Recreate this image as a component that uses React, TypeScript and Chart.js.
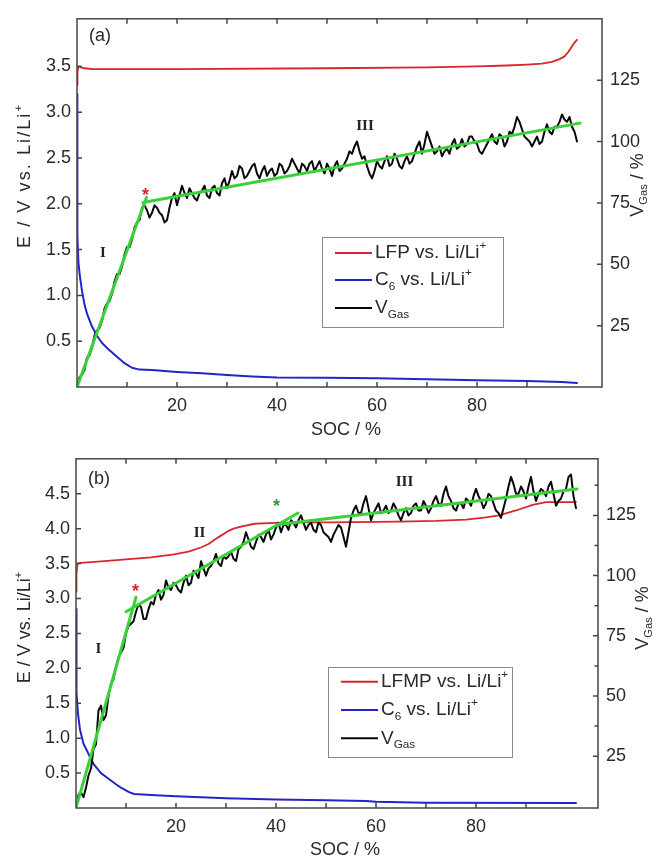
import React, { useEffect, useRef } from 'react';
import { Chart, registerables } from 'chart.js';

Chart.register(...registerables);

const SANS = '"Liberation Sans", Arial, Helvetica, sans-serif';
const SERIF = '"Liberation Serif", "Times New Roman", serif';

const RED = '#d8262b';
const BLUE = '#2424c8';
const BLACK = '#080808';
const GREEN = '#38d138';
const DARK_GREEN = '#2e9e3a';
const AXIS = '#454545';
const TEXT = '#2a2a2a';

// ---------- shared SOC grid (0.5 % steps) for the gas-volume traces ----------
const SOC = [
  0, 0.5, 1, 1.5, 2, 2.5, 3, 3.5, 4, 4.5, 5, 5.5, 6, 6.5, 7, 7.5, 8, 8.5, 9, 9.5,
  10, 10.5, 11, 11.5, 12, 12.5, 13, 13.5, 14, 14.5, 15, 15.5, 16, 16.5, 17, 17.5, 18, 18.5, 19, 19.5,
  20, 20.5, 21, 21.5, 22, 22.5, 23, 23.5, 24, 24.5, 25, 25.5, 26, 26.5, 27, 27.5, 28, 28.5, 29, 29.5,
  30, 30.5, 31, 31.5, 32, 32.5, 33, 33.5, 34, 34.5, 35, 35.5, 36, 36.5, 37, 37.5, 38, 38.5, 39, 39.5,
  40, 40.5, 41, 41.5, 42, 42.5, 43, 43.5, 44, 44.5, 45, 45.5, 46, 46.5, 47, 47.5, 48, 48.5, 49, 49.5,
  50, 50.5, 51, 51.5, 52, 52.5, 53, 53.5, 54, 54.5, 55, 55.5, 56, 56.5, 57, 57.5, 58, 58.5, 59, 59.5,
  60, 60.5, 61, 61.5, 62, 62.5, 63, 63.5, 64, 64.5, 65, 65.5, 66, 66.5, 67, 67.5, 68, 68.5, 69, 69.5,
  70, 70.5, 71, 71.5, 72, 72.5, 73, 73.5, 74, 74.5, 75, 75.5, 76, 76.5, 77, 77.5, 78, 78.5, 79, 79.5,
  80, 80.5, 81, 81.5, 82, 82.5, 83, 83.5, 84, 84.5, 85, 85.5, 86, 86.5, 87, 87.5, 88, 88.5, 89, 89.5,
  90, 90.5, 91, 91.5, 92, 92.5, 93, 93.5, 94, 94.5, 95, 95.5, 96, 96.5, 97, 97.5, 98, 98.5, 99, 99.5,
  100,
];

// ---------- panel (a): LFP ----------
const A_VGAS = [
  0, 4, 5, 7, 12, 13, 16, 21, 23, 24, 27, 32, 34, 35, 38, 43, 46, 46, 49, 54,
  57, 57, 60, 65, 67, 68, 73, 74, 72, 69, 71, 74, 73, 71, 70, 67, 68, 73, 77, 79,
  74, 78, 82, 79, 77, 81, 79, 77, 76, 79, 80, 82, 78, 77, 81, 82, 79, 78, 83, 85,
  81, 84, 88, 85, 86, 90, 89, 85, 86, 88, 90, 91, 87, 85, 88, 90, 86, 88, 89, 86,
  87, 91, 90, 87, 88, 90, 93, 91, 89, 87, 91, 90, 88, 91, 92, 88, 90, 92, 89, 87,
  91, 89, 86, 90, 92, 88, 89, 91, 93, 96, 95, 98, 100, 96, 93, 94, 90, 87, 85, 88,
  92, 90, 89, 92, 94, 90, 91, 95, 93, 90, 89, 92, 94, 91, 92, 95, 98, 100, 95, 99,
  104, 101, 98, 95, 96, 98, 94, 96, 97, 95, 99, 101, 97, 98, 101, 98, 99, 102, 102, 100,
  99, 96, 95, 97, 99, 101, 103, 100, 99, 103, 102, 98, 100, 104, 103, 106, 110, 108, 105, 102,
  101, 100, 98, 100, 102, 99, 100, 104, 107, 104, 103, 106, 106, 108, 111, 109, 108, 110, 106, 104,
  100,
];
const A_LFP_SOC = [0, 0.1, 0.3, 0.8, 1.5, 3, 20, 50, 70, 80, 86, 90, 93, 95, 96.5, 97.5, 98.3, 99, 99.5, 100];
const A_LFP_E = [3.3, 3.44, 3.5, 3.49, 3.48, 3.47, 3.47, 3.48, 3.49, 3.5, 3.51, 3.52, 3.53, 3.55, 3.58, 3.61, 3.66, 3.72, 3.76, 3.79];
const A_C6_SOC = [0, 0.05, 0.1, 0.3, 0.6, 1, 1.5, 2, 3, 4, 5, 6.5, 8, 9.5, 11, 12.5, 15, 20, 25, 30, 35, 40, 50, 60, 70, 80, 90, 97, 100];
const A_C6_E = [3.2, 2.5, 1.65, 1.35, 1.2, 1.05, 0.9, 0.8, 0.66, 0.56, 0.48, 0.4, 0.33, 0.26, 0.21, 0.19, 0.185, 0.165, 0.15, 0.13, 0.115, 0.105, 0.1, 0.095, 0.085, 0.075, 0.065, 0.055, 0.045];
const A_FIT_I_SOC = [0, 13.9];
const A_FIT_I_V = [0, 77.2];
const A_FIT_III_SOC = [13.2, 100.6];
const A_FIT_III_V = [75.2, 107.5];

// ---------- panel (b): LFMP ----------
const B_VGAS = [
  3.5, 9, 10, 8, 12, 17, 20, 28, 30, 44, 46, 40, 42, 50, 55, 57, 62, 66, 68, 70,
  76, 79, 80, 81, 85, 88, 87, 82, 82, 86, 89, 88, 92, 94, 90, 92, 98, 95, 94, 97,
  96, 94, 93, 97, 100, 96, 97, 102, 101, 99, 106, 103, 100, 103, 104, 106, 109, 105, 104, 108,
  107, 108, 110, 107, 106, 111, 112, 114, 118, 115, 112, 111, 114, 117, 116, 114, 117, 119, 115, 117,
  120, 122, 118, 121, 121, 119, 123, 122, 120, 123, 125, 122, 119, 121, 122, 119, 118, 122, 121, 118,
  117, 116, 114, 117, 119, 121, 120, 116, 112, 118, 124, 127, 129, 126, 126, 130, 133, 128, 123, 126,
  128, 130, 126, 127, 129, 126, 127, 130, 128, 125, 123, 126, 128, 125, 126, 129, 130, 127, 127, 131,
  129, 126, 128, 131, 133, 130, 129, 134, 137, 133, 131, 128, 127, 130, 130, 128, 132, 131, 129, 133,
  136, 133, 131, 128, 130, 134, 133, 130, 127, 126, 124, 128, 132, 137, 141, 138, 134, 134, 137, 135,
  132, 137, 141, 135, 131, 134, 136, 135, 133, 137, 139, 134, 129, 131, 132, 135, 136, 141, 142, 133,
  128,
];
const B_LFMP_SOC = [0, 0.1, 0.3, 1, 5, 10, 15, 19.6, 22.5, 25, 26.5, 27.7, 29, 30.3, 31.5, 33, 35.7, 38.4, 45, 51, 64.5, 72, 78, 82, 84.6, 86.5, 88, 91.3, 94, 100];
const B_LFMP_E = [3.1, 3.35, 3.5, 3.51, 3.53, 3.56, 3.59, 3.63, 3.67, 3.73, 3.78, 3.84, 3.9, 3.96, 4.0, 4.03, 4.07, 4.08, 4.09, 4.09, 4.1, 4.11, 4.13, 4.16, 4.19, 4.23, 4.26, 4.34, 4.38, 4.38];
const B_C6_SOC = [0, 0.05, 0.15, 0.4, 0.8, 1.5, 2.2, 3, 3.6, 5, 6.3, 8, 9, 10.5, 11.6, 15, 20, 30, 40, 50, 58, 60, 70, 100];
const B_C6_E = [2.85, 2.3, 1.65, 1.35, 1.12, 0.92, 0.82, 0.7, 0.62, 0.5, 0.43, 0.34, 0.29, 0.23, 0.2, 0.185, 0.17, 0.14, 0.12, 0.11, 0.1, 0.09, 0.075, 0.07];
const B_FIT_I_SOC = [0, 12];
const B_FIT_I_V = [3.5, 91];
const B_FIT_II_SOC = [10, 44.4];
const B_FIT_II_V = [85, 126];
const B_FIT_III_SOC = [40.4, 100.2];
const B_FIT_III_V = [121.2, 136];

type Seg = { t: string; k?: 'sub' | 'sup' };
type Note = { text: string; x: number; y: number; star?: boolean; color: string };

interface PanelSpec {
  height: number;
  padTop: number;
  leftW: number;
  rightW: number;
  bottomH: number;
  xMax: number;
  yMax: number;
  y1Min: number;
  y1Max: number;
  y1Minor: boolean;
  datasets: any[];
  panelLabel: string;
  panelLabelOffset: [number, number];
  notes: Note[];
  legendBox: [number, number, number, number];
  legendRows: number[];
  legendEntries: { color: string; segs: Seg[] }[];
  leftTitle: [number, number, number];
  rightTitle: [number, number];
  xTitle: [number, number];
}

const pts = (xs: number[], ys: number[]) => xs.map((x, i) => ({ x, y: ys[i] }));

const line = (data: { x: number; y: number }[], color: string, width: number, axis: string) => ({
  data,
  borderColor: color,
  borderWidth: width,
  yAxisID: axis,
  pointRadius: 0,
  tension: 0,
  fill: false,
  borderJoinStyle: 'round',
  borderCapStyle: 'round',
});

function drawRich(ctx: CanvasRenderingContext2D, segs: Seg[], x: number, y: number, size: number, measureOnly = false): number {
  let cx = x;
  for (const s of segs) {
    const fs = s.k ? size * 0.62 : size;
    ctx.font = `${fs}px ${SANS}`;
    const dy = s.k === 'sub' ? size * 0.33 : s.k === 'sup' ? -size * 0.36 : 0;
    if (!measureOnly) ctx.fillText(s.t, cx, y + dy);
    cx += ctx.measureText(s.t).width;
  }
  return cx - x;
}

function makeDecor(spec: PanelSpec) {
  return {
    id: 'decor',
    afterDatasetsDraw(chart: any) {
      const ctx: CanvasRenderingContext2D = chart.ctx;
      const a = chart.chartArea;
      const sx = chart.scales.x;
      const sy = chart.scales.y;
      const sy1 = chart.scales.y1;
      ctx.save();

      // frame
      ctx.strokeStyle = AXIS;
      ctx.lineWidth = 1.5;
      ctx.strokeRect(a.left, a.top, a.right - a.left, a.bottom - a.top);

      // inward ticks
      ctx.beginPath();
      for (const t of sx.ticks) {
        const v = t.value;
        if (v <= 0 || v > 100.001 || Math.abs(v / 10 - Math.round(v / 10)) > 1e-6) continue;
        const p = sx.getPixelForValue(v);
        ctx.moveTo(p, a.bottom);
        ctx.lineTo(p, a.bottom - 5);
        ctx.moveTo(p, a.top);
        ctx.lineTo(p, a.top + 5);
      }
      for (const t of sy.ticks) {
        const v = t.value;
        if (v <= 0 || v > spec.yMax - 0.1 || Math.abs(v * 2 - Math.round(v * 2)) > 1e-6) continue;
        const p = sy.getPixelForValue(v);
        ctx.moveTo(a.left, p);
        ctx.lineTo(a.left + 5, p);
      }
      for (const t of sy1.ticks) {
        const v = t.value;
        if (Math.abs(v / 25 - Math.round(v / 25)) > 1e-6) continue;
        if (v > spec.y1Min + 1 && v < spec.y1Max - 1) {
          const p = sy1.getPixelForValue(v);
          ctx.moveTo(a.right, p);
          ctx.lineTo(a.right - 5, p);
        }
        if (spec.y1Minor) {
          const m = v + 12.5;
          if (m > spec.y1Min + 1 && m < spec.y1Max - 1) {
            const p = sy1.getPixelForValue(m);
            ctx.moveTo(a.right, p);
            ctx.lineTo(a.right - 3.5, p);
          }
        }
      }
      ctx.stroke();

      // annotations
      ctx.textAlign = 'center';
      ctx.textBaseline = 'middle';
      for (const n of spec.notes) {
        const px = sx.getPixelForValue(n.x);
        const py = sy.getPixelForValue(n.y);
        ctx.fillStyle = n.color;
        if (n.star) {
          ctx.font = `bold 18px ${SANS}`;
          ctx.fillText(n.text, px, py + 4);
        } else {
          ctx.font = `bold 15px ${SERIF}`;
          ctx.fillText(n.text, px, py);
        }
      }
      ctx.fillStyle = TEXT;
      ctx.font = `18px ${SANS}`;
      ctx.textAlign = 'left';
      ctx.fillText(spec.panelLabel, a.left + spec.panelLabelOffset[0], a.top + spec.panelLabelOffset[1]);

      // legend
      const [bl, bt, br, bb] = spec.legendBox;
      ctx.fillStyle = '#ffffff';
      ctx.fillRect(bl, bt, br - bl, bb - bt);
      ctx.strokeStyle = '#8a8a8a';
      ctx.lineWidth = 1;
      ctx.strokeRect(bl + 0.5, bt + 0.5, br - bl, bb - bt);
      spec.legendEntries.forEach((e, i) => {
        const ry = spec.legendRows[i];
        ctx.strokeStyle = e.color;
        ctx.lineWidth = 2;
        ctx.beginPath();
        ctx.moveTo(bl + 13, ry);
        ctx.lineTo(bl + 50, ry);
        ctx.stroke();
        ctx.fillStyle = TEXT;
        ctx.textAlign = 'left';
        ctx.textBaseline = 'middle';
        drawRich(ctx, e.segs, bl + 53, ry, 19);
      });

      // axis titles
      ctx.fillStyle = TEXT;
      ctx.textBaseline = 'middle';
      ctx.textAlign = 'left';
      {
        const [cx, cy, sp] = spec.leftTitle;
        const segs: Seg[] = [{ t: 'E / V vs. Li/Li' }, { t: '+', k: 'sup' }];
        (ctx as any).letterSpacing = `${sp}px`;
        const w = drawRich(ctx, segs, 0, 0, 18, true);
        ctx.save();
        ctx.translate(cx, cy);
        ctx.rotate(-Math.PI / 2);
        drawRich(ctx, segs, -w / 2, 0, 18);
        ctx.restore();
        (ctx as any).letterSpacing = '0px';
      }
      {
        const [cx, cy] = spec.rightTitle;
        const segs: Seg[] = [{ t: 'V' }, { t: 'Gas', k: 'sub' }, { t: ' / %' }];
        const w = drawRich(ctx, segs, 0, 0, 18, true);
        ctx.save();
        ctx.translate(cx, cy);
        ctx.rotate(-Math.PI / 2);
        drawRich(ctx, segs, -w / 2, 0, 18);
        ctx.restore();
      }
      {
        const [cx, cy] = spec.xTitle;
        ctx.font = `18px ${SANS}`;
        ctx.textAlign = 'center';
        ctx.fillText('SOC / %', cx, cy);
      }
      ctx.restore();
    },
  };
}

function buildConfig(spec: PanelSpec): any {
  const tickFont = { family: SANS, size: 18 };
  return {
    type: 'line',
    data: { datasets: spec.datasets },
    options: {
      animation: false,
      responsive: false,
      devicePixelRatio: 1,
      layout: { padding: { top: spec.padTop, left: 0, right: 0, bottom: 0 } },
      plugins: { legend: { display: false }, tooltip: { enabled: false }, title: { display: false } },
      scales: {
        x: {
          type: 'linear',
          min: 0,
          max: spec.xMax,
          grid: { display: false, drawTicks: false },
          border: { display: false },
          ticks: {
            stepSize: 10,
            autoSkip: false,
            maxRotation: 0,
            padding: 8,
            font: tickFont,
            color: TEXT,
            callback: (v: number) => (v > 0 && v <= 100 && Math.abs(v / 20 - Math.round(v / 20)) < 1e-6 ? String(Math.round(v)) : ''),
          },
          afterFit: (s: any) => {
            s.height = spec.bottomH;
          },
        },
        y: {
          type: 'linear',
          position: 'left',
          min: 0,
          max: spec.yMax,
          grid: { display: false, drawTicks: false },
          border: { display: false },
          ticks: {
            stepSize: 0.5,
            autoSkip: false,
            padding: 6,
            font: tickFont,
            color: TEXT,
            callback: (v: number) =>
              v > 0.01 && v < spec.yMax - 0.3 && Math.abs(v * 2 - Math.round(v * 2)) < 1e-6 ? v.toFixed(1) : '',
          },
          afterFit: (s: any) => {
            s.width = spec.leftW;
          },
        },
        y1: {
          type: 'linear',
          position: 'right',
          min: spec.y1Min,
          max: spec.y1Max,
          grid: { display: false, drawTicks: false },
          border: { display: false },
          ticks: {
            stepSize: 25,
            autoSkip: false,
            padding: 8,
            font: tickFont,
            color: TEXT,
            callback: (v: number) =>
              v > 1 && v < 140 && Math.abs(v / 25 - Math.round(v / 25)) < 1e-6 ? String(Math.round(v)) : '',
          },
          afterFit: (s: any) => {
            s.width = spec.rightW;
          },
        },
      },
    },
    plugins: [makeDecor(spec)],
  };
}

const legendC6: Seg[] = [{ t: 'C' }, { t: '6', k: 'sub' }, { t: ' vs. Li/Li' }, { t: '+', k: 'sup' }];
const legendGas: Seg[] = [{ t: 'V' }, { t: 'Gas', k: 'sub' }];

const PANEL_A: PanelSpec = {
  height: 440,
  padTop: 15,
  leftW: 77,
  rightW: 56,
  bottomH: 53,
  xMax: 105,
  yMax: 4.02,
  y1Min: 0,
  y1Max: 150,
  y1Minor: false,
  datasets: [
    line(pts(A_FIT_I_SOC, A_FIT_I_V), GREEN, 3, 'y1'),
    line(pts(A_FIT_III_SOC, A_FIT_III_V), GREEN, 3, 'y1'),
    line(pts(SOC, A_VGAS), BLACK, 2, 'y1'),
    line(pts(A_C6_SOC, A_C6_E), BLUE, 2, 'y'),
    line(pts(A_LFP_SOC, A_LFP_E), RED, 1.8, 'y'),
  ],
  panelLabel: '(a)',
  panelLabelOffset: [12, 17],
  notes: [
    { text: 'I', x: 5.2, y: 1.46, color: '#222222' },
    { text: 'III', x: 57.6, y: 2.85, color: '#222222' },
    { text: '*', x: 13.7, y: 2.13, star: true, color: RED },
  ],
  legendBox: [322, 237, 503, 327],
  legendRows: [253, 280, 308],
  legendEntries: [
    { color: RED, segs: [{ t: 'LFP vs. Li/Li' }, { t: '+', k: 'sup' }] },
    { color: BLUE, segs: legendC6 },
    { color: BLACK, segs: legendGas },
  ],
  leftTitle: [25, 175.5, 2.1],
  rightTitle: [638, 185],
  xTitle: [346, 430],
};

const PANEL_B: PanelSpec = {
  height: 420,
  padTop: 9,
  leftW: 76,
  rightW: 60,
  bottomH: 52,
  xMax: 104.4,
  yMax: 5.0,
  y1Min: 3.5,
  y1Max: 148.5,
  y1Minor: true,
  datasets: [
    line(pts(B_FIT_I_SOC, B_FIT_I_V), GREEN, 3, 'y1'),
    line(pts(B_FIT_II_SOC, B_FIT_II_V), GREEN, 3, 'y1'),
    line(pts(B_FIT_III_SOC, B_FIT_III_V), GREEN, 3, 'y1'),
    line(pts(SOC, B_VGAS), BLACK, 2, 'y1'),
    line(pts(B_C6_SOC, B_C6_E), BLUE, 2, 'y'),
    line(pts(B_LFMP_SOC, B_LFMP_E), RED, 1.8, 'y'),
  ],
  panelLabel: '(b)',
  panelLabelOffset: [12, 20],
  notes: [
    { text: 'I', x: 4.5, y: 2.27, color: '#222222' },
    { text: 'II', x: 24.7, y: 3.93, color: '#222222' },
    { text: 'III', x: 65.7, y: 4.67, color: '#222222' },
    { text: '*', x: 11.9, y: 3.15, star: true, color: RED },
    { text: '*', x: 40.1, y: 4.36, star: true, color: DARK_GREEN },
  ],
  legendBox: [328, 227, 512, 317],
  legendRows: [241.7, 270, 298.3],
  legendEntries: [
    { color: RED, segs: [{ t: 'LFMP vs. Li/Li' }, { t: '+', k: 'sup' }] },
    { color: BLUE, segs: legendC6 },
    { color: BLACK, segs: legendGas },
  ],
  leftTitle: [25, 187.5, 0],
  rightTitle: [643, 178],
  xTitle: [345, 410],
};

function Panel({ spec, top }: { spec: PanelSpec; top: number }) {
  const ref = useRef<HTMLCanvasElement>(null);
  useEffect(() => {
    if (!ref.current) return;
    const chart = new Chart(ref.current, buildConfig(spec));
    return () => chart.destroy();
  }, [spec]);
  return (
    <canvas
      ref={ref}
      width={658}
      height={spec.height}
      style={{ position: 'absolute', left: 0, top, width: 658, height: spec.height, display: 'block' }}
    />
  );
}

export default function App() {
  return (
    <div style={{ position: 'absolute', left: 0, top: 0, width: 658, height: 860, background: '#ffffff', fontFamily: SANS }}>
      <Panel spec={PANEL_A} top={0} />
      <Panel spec={PANEL_B} top={440} />
    </div>
  );
}
